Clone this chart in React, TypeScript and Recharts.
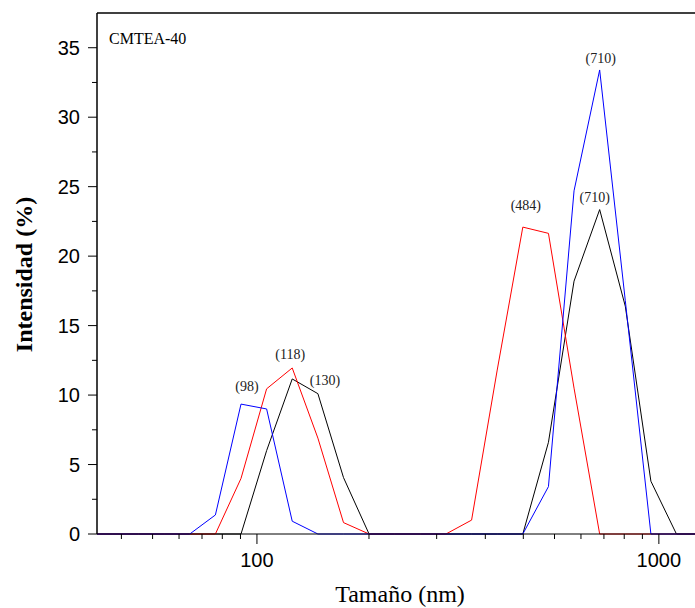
import React from 'react';
import { LineChart, Line, XAxis, YAxis, ReferenceLine, ReferenceDot, Customized } from 'recharts';

// Size (nm): axis-edge sizes (40, 1230) where every curve reads 0, plus the size bins in between
const sizes = [40, 43.82, 50.75, 58.77, 68.06, 78.82, 91.28, 105.7, 122.4, 141.8, 164.2, 190.1, 220.2, 255.0, 295.3, 342.0, 396.1, 458.7, 531.2, 615.1, 712.4, 825.0, 955.4, 1106, 1230];
// Intensity (%) per size
const blueValues = [0, 0, 0, 0, 0, 1.37, 9.35, 9.0, 0.92, 0, 0, 0, 0, 0, 0, 0, 0, 0, 3.41, 24.7, 33.4, 16.8, 0, 0, 0];
const redValues = [0, 0, 0, 0, 0, 0, 4.0, 10.45, 11.95, 6.9, 0.82, 0, 0, 0, 0, 1.0, 11.8, 22.09, 21.64, 10.5, 0, 0, 0, 0, 0];
const blackValues = [0, 0, 0, 0, 0, 0, 0, 6.0, 11.16, 10.1, 4.06, 0, 0, 0, 0, 0, 0, 0, 6.6, 18.2, 23.35, 16.4, 3.8, 0, 0];

const xTicks = [46, 55, 64, 73, 82, 91, 100, 190, 280, 370, 460, 550, 640, 730, 820, 910, 1000];
const xMajorTicks = [100, 1000];
const yTicks = [0, 2.5, 5, 7.5, 10, 12.5, 15, 17.5, 20, 22.5, 25, 27.5, 30, 32.5, 35];
const yMajorTicks = [0, 5, 10, 15, 20, 25, 30, 35];

const peakTexts = ['(98)', '(118)', '(130)', '(484)', '(710)', '(710)'];
const peakSeries = ['blue', 'red', 'black', 'red', 'blue', 'black'];
const peakSizes = [91.28, 122.4, 141.8, 458.7, 712.4, 712.4];

const sampleTitle = 'CMTEA-40';
const xTitle = 'Tamaño (nm)';
const yTitle = 'Intensidad (%)';

const seriesMap: Record<string, number[]> = { blue: blueValues, red: redValues, black: blackValues };
const data = sizes.map((s, i) => ({ size: s, blue: blueValues[i], red: redValues[i], black: blackValues[i] }));

// label offsets in px (style)
const labelOffsets = [
  [6, -18], [-2, -14], [7, -13], [3, -21.5], [1, -11.5], [-5, -12.5],
];

const SANS = '"Liberation Sans", Arial, sans-serif';
const SERIF = '"Liberation Serif", "Times New Roman", serif';

const XTick = (props: any) => {
  const { x, y, payload } = props;
  const major = xMajorTicks.includes(payload.value);
  return (
    <g>
      <line x1={x} x2={x} y1={y} y2={y + (major ? 10 : 5)} stroke="#000" strokeWidth={1} />
      {major && (
        <text x={x} y={y + 33} textAnchor="middle" fontFamily={SANS} fontSize={20} fill="#000">
          {payload.value}
        </text>
      )}
    </g>
  );
};

const YTick = (props: any) => {
  const { x, y, payload } = props;
  const major = yMajorTicks.includes(payload.value);
  return (
    <g>
      <line x1={x} x2={x - (major ? 9 : 5)} y1={y} y2={y} stroke="#000" strokeWidth={1} />
      {major && (
        <text x={x - 17} y={y + 7} textAnchor="end" fontFamily={SANS} fontSize={20} fill="#000">
          {payload.value}
        </text>
      )}
    </g>
  );
};

export default function App() {
  return (
    <div style={{ position: 'absolute', left: 0, top: 0, width: 695, height: 608, overflow: 'hidden', background: '#fff' }}>
      <LineChart width={695} height={608} data={data} margin={{ top: 13, right: 0, bottom: 0, left: 0 }}>
        <XAxis
          dataKey="size"
          type="number"
          scale="log"
          domain={[40, 1230]}
          ticks={xTicks}
          interval={0}
          tick={<XTick />}
          tickLine={false}
          tickSize={0}
          tickMargin={0}
          axisLine={{ stroke: '#000', strokeWidth: 1 }}
          height={74}
          label={() => (
            <text x={400} y={602} textAnchor="middle" fontFamily={SERIF} fontSize={24} fill="#000">
              {xTitle}
            </text>
          )}
        />
        <YAxis
          type="number"
          domain={[0, 37.5]}
          ticks={yTicks}
          interval={0}
          tick={<YTick />}
          tickLine={false}
          tickSize={0}
          tickMargin={0}
          axisLine={{ stroke: '#000', strokeWidth: 1.5 }}
          width={97}
          label={() => (
            <text
              x={32}
              y={274.5}
              transform="rotate(-90, 32, 274.5)"
              textAnchor="middle"
              fontFamily={SERIF}
              fontWeight="bold"
              fontSize={24}
              fill="#000"
            >
              {yTitle}
            </text>
          )}
        />
        <ReferenceLine y={37.5} stroke="#000" strokeWidth={1.5} />
        <Line type="linear" dataKey="black" stroke="#000000" strokeWidth={1} dot={false} isAnimationActive={false} />
        <Line type="linear" dataKey="red" stroke="#ff0000" strokeWidth={1} dot={false} isAnimationActive={false} />
        <Line type="linear" dataKey="blue" stroke="#0000ff" strokeWidth={1} dot={false} isAnimationActive={false} />
        {peakTexts.map((t, i) => {
          const idx = sizes.indexOf(peakSizes[i]);
          const val = seriesMap[peakSeries[i]][idx];
          const [dx, dy] = labelOffsets[i];
          return (
            <ReferenceDot
              key={i}
              x={peakSizes[i]}
              y={val}
              r={0}
              fill="none"
              stroke="none"
              label={(p: any) => {
                const vb = p.viewBox || {};
                const cx = (vb.x ?? 0) + (vb.width ?? 0) / 2;
                const cy = (vb.y ?? 0) + (vb.height ?? 0) / 2;
                return (
                  <text x={cx + dx} y={cy + dy + 4.6} textAnchor="middle" fontFamily={SERIF} fontSize={14} fill="#222">
                    {t}
                  </text>
                );
              }}
            />
          );
        })}
        <Customized
          component={() => (
            <text x={109} y={44.3} fontFamily={SERIF} fontSize={16} fill="#000">
              {sampleTitle}
            </text>
          )}
        />
      </LineChart>
    </div>
  );
}
